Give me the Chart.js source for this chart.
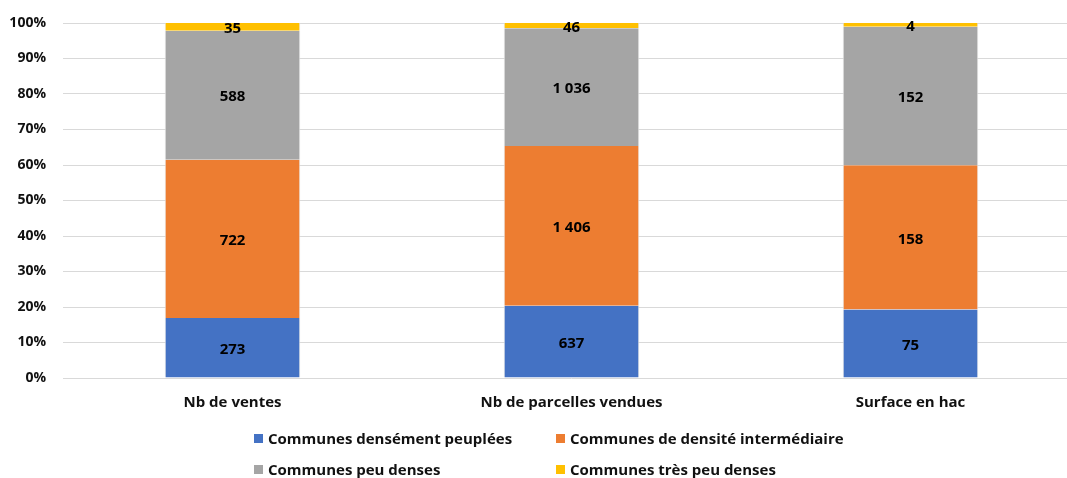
<!DOCTYPE html>
<html lang="fr">
<head>
<meta charset="utf-8">
<script src="https://cdn.jsdelivr.net/npm/chart.js@4.4.1/dist/chart.umd.min.js"></script>
<style>
  html, body { margin: 0; padding: 0; background: #fff; overflow: hidden; }
  #wrap { position: relative; width: 1080px; height: 478px; }
  #legend {
    position: absolute; left: 254px; top: 426px;
    display: grid; grid-template-columns: 302px auto; row-gap: 7px;
    font-family: "Open Sans", sans-serif; font-weight: 700; font-size: 15px; color: #111;
  }
  #legend .item { display: flex; align-items: center; height: 24px; white-space: nowrap; }
  #legend .box { width: 9px; height: 9px; margin-right: 5px; }
</style>
</head>
<body>
<div id="wrap">
  <canvas id="c" width="1080" height="478"></canvas>
  <div id="legend"></div>
</div>
<script>
// Ventes de terrains par type de commune
const categories = ["Nb de ventes", "Nb de parcelles vendues", "Surface en hac"];
const seriesNames = [
  "Communes densément peuplées",
  "Communes de densité intermédiaire",
  "Communes peu denses",
  "Communes très peu denses"
];
const densesValues       = [273, 637, 75];
const intermediairesValues = [722, 1406, 158];
const peuDensesValues    = [588, 1036, 152];
const tresPeuDensesValues = [35, 46, 4];
const yTickLabels = ["0%", "10%", "20%", "30%", "40%", "50%", "60%", "70%", "80%", "90%", "100%"];
const colors = ["#4472C4", "#ED7D31", "#A5A5A5", "#FFC000"];

const rawSeries = [densesValues, intermediairesValues, peuDensesValues, tresPeuDensesValues];
const totals = categories.map((_, i) => rawSeries.reduce((s, arr) => s + arr[i], 0));
const share = arr => arr.map((v, i) => v / totals[i] * 100);

const FONT = '"Open Sans", sans-serif';
const fmt = v => String(v).replace(/\B(?=(\d{3})+(?!\d))/g, " ");

// Value labels centred on each segment
const segmentLabels = {
  id: "segmentLabels",
  afterDatasetsDraw(chart) {
    const ctx = chart.ctx;
    ctx.save();
    ctx.font = "700 15px " + FONT;
    ctx.fillStyle = "#000";
    ctx.textAlign = "center";
    ctx.textBaseline = "middle";
    chart.data.datasets.forEach((ds, di) => {
      chart.getDatasetMeta(di).data.forEach((bar, i) => {
        const y = (bar.y + bar.base) / 2;
        ctx.fillText(fmt(ds.raw[i]), bar.x, y + 2);
      });
    });
    ctx.restore();
  }
};

new Chart(document.getElementById("c"), {
  type: "bar",
  data: {
    labels: categories,
    datasets: rawSeries.map((arr, k) => ({
      label: seriesNames[k],
      data: share(arr),
      raw: arr,
      backgroundColor: colors[k],
      borderColor: "#e4e4e4",
      borderWidth: { left: 1, right: 1, top: 0, bottom: 0 },
      barPercentage: 0.8,
      categoryPercentage: 0.5
    }))
  },
  options: {
    responsive: false,
    animation: false,
    layout: { padding: { top: 0, right: 0, bottom: 58, left: 0 } },
    plugins: { legend: { display: false }, tooltip: { enabled: false } },
    scales: {
      x: {
        stacked: true,
        grid: { display: false },
        border: { display: false },
        ticks: { color: "#111", font: { family: FONT, size: 15, weight: "700" }, padding: 8 }
      },
      y: {
        stacked: true,
        min: 0, max: 100,
        afterFit(scale) { scale.width = 63; scale.paddingTop = 23; },
        grid: { color: "#d9d9d9", lineWidth: 1, drawTicks: false },
        border: { display: false },
        ticks: {
          stepSize: 10,
          padding: 17,
          color: "#111",
          font: { family: FONT, size: 14, weight: "700" },
          callback: (v, idx) => yTickLabels[idx]
        }
      }
    }
  },
  plugins: [segmentLabels]
});

// Two-row legend
const legend = document.getElementById("legend");
[0, 1, 2, 3].forEach(k => {
  const it = document.createElement("div");
  it.className = "item";
  it.innerHTML = '<span class="box" style="background:' + colors[k] + '"></span>' + seriesNames[k];
  legend.appendChild(it);
});
</script>
</body>
</html>
